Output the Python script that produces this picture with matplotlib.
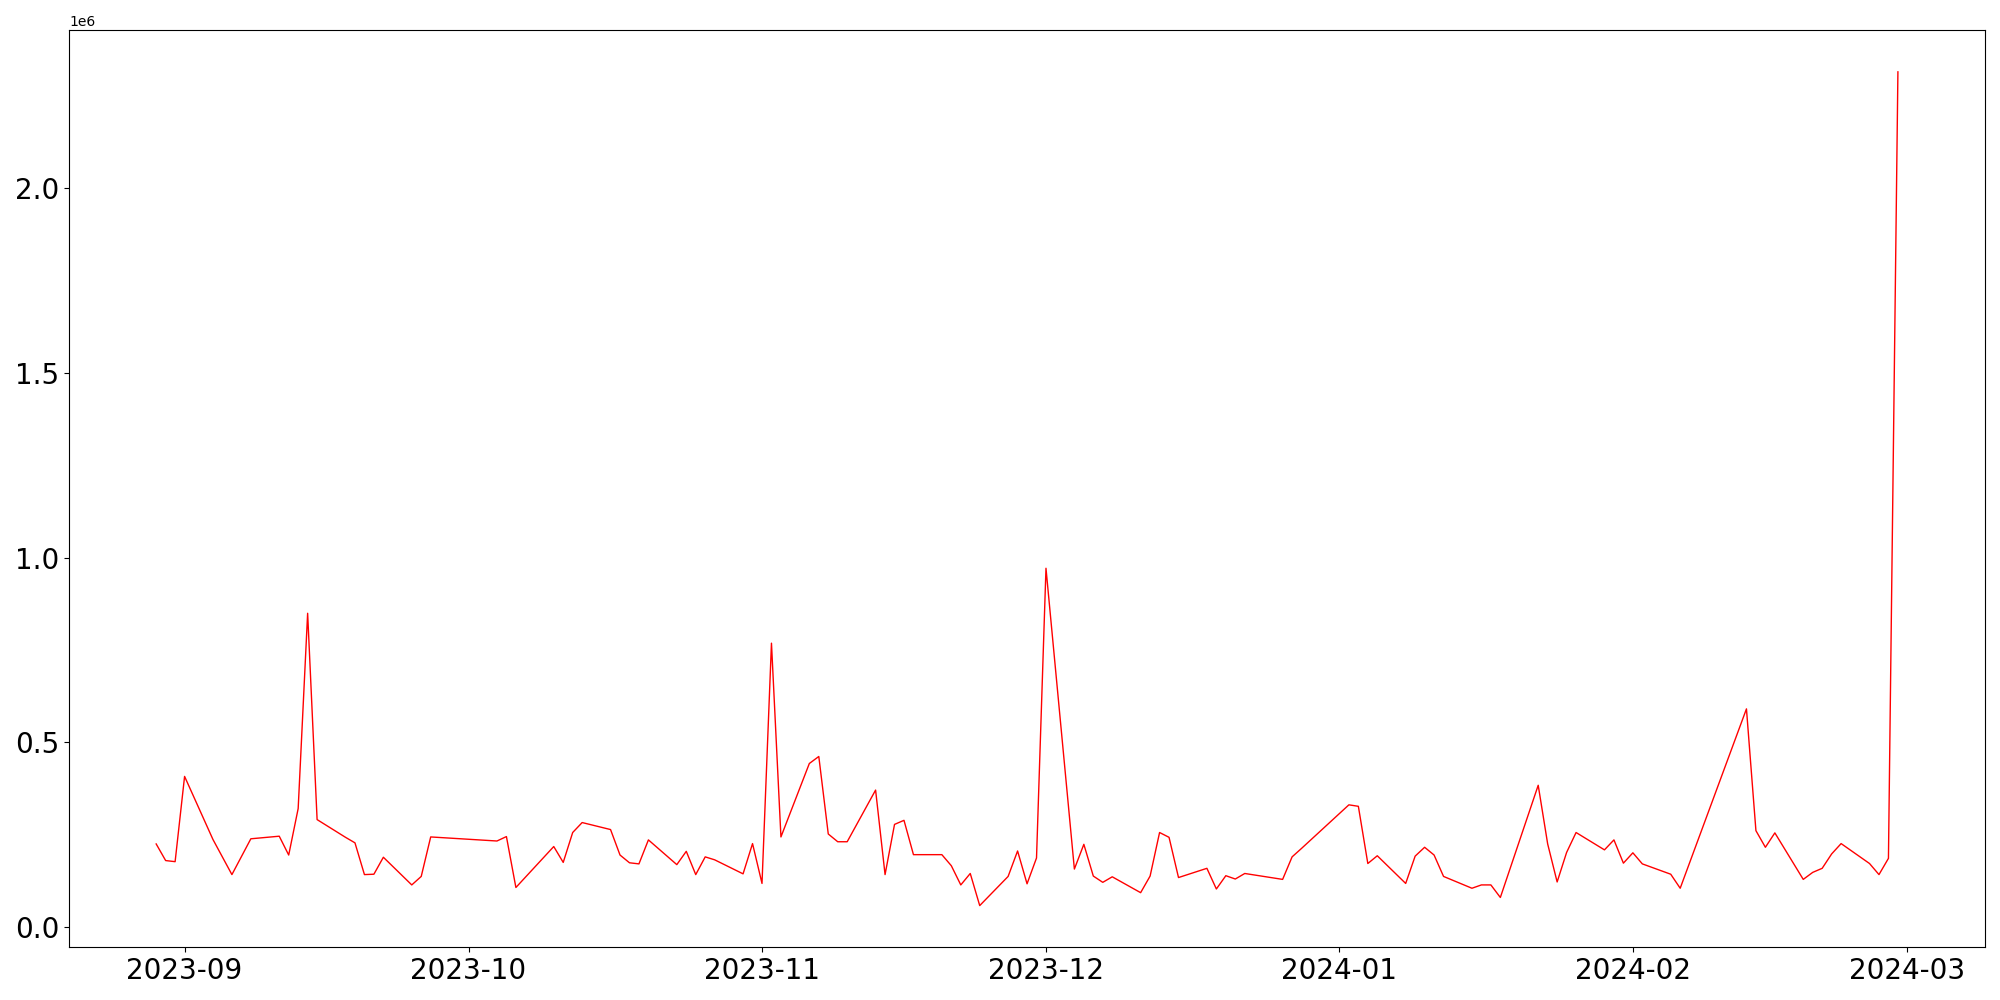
import matplotlib
matplotlib.use("Agg")
import matplotlib.pyplot as plt
import pandas as pd

dates = [
    "2023-08-29", "2023-08-30", "2023-08-31", "2023-09-01", "2023-09-04", "2023-09-06",
    "2023-09-08", "2023-09-11", "2023-09-12", "2023-09-13", "2023-09-14", "2023-09-15",
    "2023-09-18", "2023-09-19", "2023-09-20", "2023-09-21", "2023-09-22", "2023-09-25",
    "2023-09-26", "2023-09-27", "2023-10-04", "2023-10-05", "2023-10-06", "2023-10-10",
    "2023-10-11", "2023-10-12", "2023-10-13", "2023-10-16", "2023-10-17", "2023-10-18",
    "2023-10-19", "2023-10-20", "2023-10-23", "2023-10-24", "2023-10-25", "2023-10-26",
    "2023-10-27", "2023-10-30", "2023-10-31", "2023-11-01", "2023-11-02", "2023-11-03",
    "2023-11-06", "2023-11-07", "2023-11-08", "2023-11-09", "2023-11-10", "2023-11-13",
    "2023-11-14", "2023-11-15", "2023-11-16", "2023-11-17", "2023-11-20", "2023-11-21",
    "2023-11-22", "2023-11-23", "2023-11-24", "2023-11-27", "2023-11-28", "2023-11-29",
    "2023-11-30", "2023-12-01", "2023-12-04", "2023-12-05", "2023-12-06", "2023-12-07",
    "2023-12-08", "2023-12-11", "2023-12-12", "2023-12-13", "2023-12-14", "2023-12-15",
    "2023-12-18", "2023-12-19", "2023-12-20", "2023-12-21", "2023-12-22", "2023-12-26",
    "2023-12-27", "2023-12-28", "2024-01-02", "2024-01-03", "2024-01-04", "2024-01-05",
    "2024-01-08", "2024-01-09", "2024-01-10", "2024-01-11", "2024-01-12", "2024-01-15",
    "2024-01-16", "2024-01-17", "2024-01-18", "2024-01-22", "2024-01-23", "2024-01-24",
    "2024-01-25", "2024-01-26", "2024-01-29", "2024-01-30", "2024-01-31", "2024-02-01",
    "2024-02-02", "2024-02-05", "2024-02-06", "2024-02-13", "2024-02-14", "2024-02-15",
    "2024-02-16", "2024-02-19", "2024-02-20", "2024-02-21", "2024-02-22", "2024-02-23",
    "2024-02-26", "2024-02-27", "2024-02-28", "2024-02-29",
]

values = [
    224000, 179000, 176000, 407000, 236000, 141000,
    238000, 245000, 194000, 320000, 849000, 290000,
    242000, 227000, 141000, 142000, 188000, 113000,
    136000, 243000, 232000, 244000, 106000, 217000,
    174000, 255000, 282000, 263000, 194000, 173000,
    170000, 235000, 168000, 204000, 141000, 189000,
    181000, 143000, 225000, 117000, 768000, 243000,
    442000, 461000, 251000, 230000, 230000, 370000,
    141000, 277000, 288000, 195000, 195000, 165000,
    113000, 144000, 57000, 136000, 205000, 116000,
    186000, 971000, 156000, 223000, 137000, 120000,
    135000, 92000, 137000, 255000, 242000, 133000,
    158000, 102000, 138000, 129000, 144000, 128000,
    189000, 212000, 330000, 326000, 171000, 192000,
    117000, 191000, 215000, 194000, 136000, 104000,
    113000, 113000, 79000, 383000, 224000, 121000,
    201000, 255000, 208000, 235000, 172000, 200000,
    170000, 142000, 104000, 590000, 260000, 215000,
    254000, 128000, 147000, 158000, 197000, 225000,
    171000, 141000, 185000, 2316000,
]

x = pd.to_datetime(dates)

fig, ax = plt.subplots(figsize=(20, 10), dpi=100)
ax.plot(x, values, color="red", linewidth=1.0)
ax.tick_params(axis="both", labelsize=20)
fig.tight_layout()
fig.savefig("out.png", dpi=100)
